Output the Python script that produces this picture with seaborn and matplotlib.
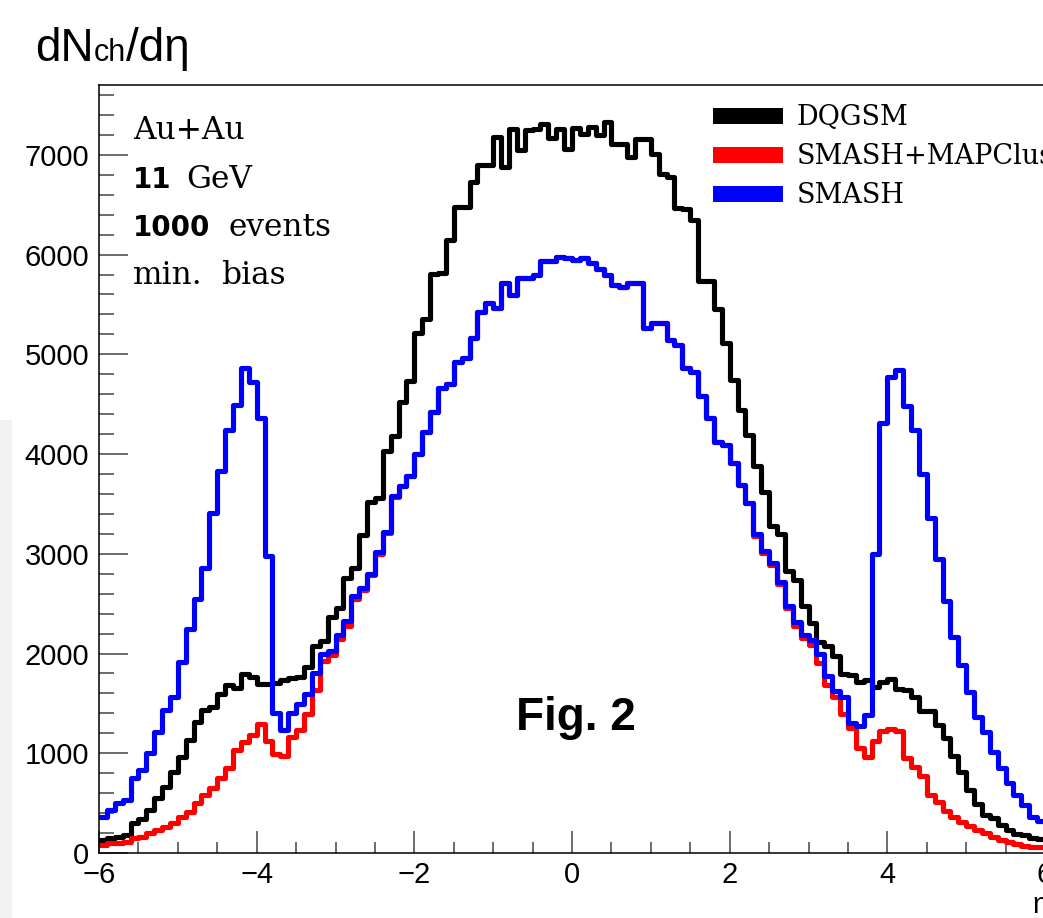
import matplotlib
matplotlib.use("Agg")
import numpy as np
import pandas as pd
import matplotlib.pyplot as plt
import seaborn as sns
from matplotlib.transforms import IdentityTransform
from matplotlib.lines import Line2D
from matplotlib.ticker import MultipleLocator
from matplotlib.patches import Rectangle

# ---------------- data ----------------
eta_edges = [round(-6.0 + 0.1 * i, 2) for i in range(121)]     # 120 bins of width 0.1
eta_centers = [round(-5.95 + 0.1 * i, 3) for i in range(120)]

dqgsm = [
    132, 149, 165, 182, 298, 338, 432, 548, 665, 815,
    958, 1131, 1314, 1431, 1464, 1597, 1680, 1654, 1797, 1764,
    1697, 1697, 1700, 1732, 1755, 1767, 1862, 2073, 2121, 2362,
    2454, 2755, 2861, 3190, 3515, 3555, 4027, 4178, 4518, 4729,
    5209, 5352, 5810, 5816, 6150, 6477, 6480, 6727, 6894, 6900,
    7177, 6880, 7260, 7044, 7244, 7260, 7310, 7170, 7260, 7055,
    7265, 7205, 7277, 7194, 7327, 7110, 7110, 6980, 7160, 7160,
    7005, 6810, 6777, 6465, 6460, 6344, 5730, 5730, 5455, 5118,
    4746, 4440, 4190, 3884, 3622, 3277, 3200, 2825, 2738, 2480,
    2305, 2120, 2072, 1971, 1797, 1785, 1710, 1735, 1668, 1718,
    1744, 1644, 1635, 1560, 1427, 1427, 1285, 1152, 977, 810,
    635, 494, 385, 352, 285, 227, 194, 185, 152, 137,
]

smash_mapclus = [
    82, 99, 105, 115, 149, 165, 205, 232, 265, 298,
    365, 415, 498, 581, 648, 748, 848, 1031, 1114, 1181,
    1297, 1120, 990, 970, 1164, 1232, 1397, 1636, 1920, 1990,
    2141, 2277, 2550, 2635, 2785, 3000, 3205, 3570, 3678, 3777,
    3999, 4218, 4420, 4660, 4700, 4927, 4960, 5160, 5427, 5510,
    5468, 5710, 5594, 5768, 5760, 5794, 5935, 5935, 5977, 5968,
    5944, 5968, 5918, 5860, 5794, 5694, 5677, 5710, 5710, 5260,
    5310, 5310, 5144, 5094, 4860, 4818, 4577, 4360, 4120, 4088,
    3912, 3690, 3507, 3180, 3010, 2890, 2695, 2460, 2280, 2160,
    2090, 1900, 1680, 1560, 1390, 1250, 1050, 960, 1127, 1220,
    1245, 1220, 955, 860, 777, 577, 510, 420, 360, 310,
    270, 227, 200, 160, 135, 110, 90, 75, 65, 60,
]

smash = [
    360, 430, 500, 530, 748, 831, 998, 1214, 1431, 1564,
    1914, 2246, 2546, 2862, 3412, 3828, 4238, 4494, 4867, 4727,
    4361, 2979, 1400, 1231, 1400, 1490, 1596, 1806, 2000, 2028,
    2183, 2322, 2573, 2654, 2802, 3015, 3218, 3583, 3678, 3777,
    3999, 4218, 4420, 4660, 4700, 4927, 4960, 5160, 5427, 5510,
    5468, 5710, 5594, 5768, 5760, 5794, 5935, 5935, 5977, 5968,
    5944, 5968, 5918, 5860, 5794, 5694, 5677, 5710, 5710, 5260,
    5310, 5310, 5144, 5094, 4860, 4818, 4577, 4360, 4120, 4088,
    3912, 3690, 3507, 3198, 3027, 2912, 2718, 2480, 2314, 2190,
    2131, 1994, 1777, 1627, 1563, 1300, 1275, 1385, 3000, 4310,
    4768, 4844, 4485, 4244, 3802, 3360, 2944, 2527, 2168, 1885,
    1610, 1368, 1210, 1010, 852, 702, 577, 477, 360, 320,
]

series_names = ["DQGSM", "SMASH+MAPClus", "SMASH"]
series_colors = ["#000000", "#ff0000", "#0000ff"]
series_values = [dqgsm, smash_mapclus, smash]

x_ticks = [-6, -4, -2, 0, 2, 4, 6]
y_ticks = [0, 1000, 2000, 3000, 4000, 5000, 6000, 7000]

# ---------------- figure ----------------
W, H = 1043, 918
sns.set_style("white")
plt.rcParams["font.family"] = ["Liberation Sans", "DejaVu Sans"]
plt.rcParams["text.color"] = "black"

fig = plt.figure(figsize=(W / 100, H / 100), dpi=100)
fig.patches.append(Rectangle((0, 0), 12, H - 420, transform=IdentityTransform(),
                             facecolor="#f2f2f2", edgecolor="none", zorder=0))
ax = fig.add_axes([99 / W, 65 / H, 946 / W, 768 / H])
ax.set_facecolor("white")

for name, vals, col in zip(series_names, series_values, series_colors):
    df = pd.DataFrame({"eta": eta_centers, "n": vals})
    sns.histplot(data=df, x="eta", weights="n", bins=eta_edges, element="step",
                 fill=False, color=col, linewidth=3.7, ax=ax)

ax.set_xlim(-6, 6)
ax.set_ylim(0, 7700)
ax.set_xticks(x_ticks)
ax.set_yticks(y_ticks)
ax.xaxis.set_minor_locator(MultipleLocator(0.5))
ax.yaxis.set_minor_locator(MultipleLocator(200))
ax.set_xlabel("")
ax.set_ylabel("")

ax.tick_params(which="both", direction="in", color="#444444", labelcolor="black",
               labelsize=21, width=1.1, bottom=True, left=True, top=False, right=False)
ax.tick_params(axis="y", which="major", length=21, pad=7)
ax.tick_params(axis="y", which="minor", length=11)
ax.tick_params(axis="x", which="major", length=16, pad=6)
ax.tick_params(axis="x", which="minor", length=8)
for s in ["left", "top", "bottom"]:
    ax.spines[s].set_color("black")
    ax.spines[s].set_linewidth(1.1)
ax.spines["right"].set_visible(False)

# legend
handles = [Line2D([0], [0], color=c, lw=11.5, solid_capstyle="butt") for c in series_colors]
leg = ax.legend(handles, series_names, loc="upper left",
                bbox_to_anchor=(713 / W, 1 - 104 / H), bbox_transform=fig.transFigure,
                frameon=False, borderpad=0, borderaxespad=0,
                handlelength=2.6, handletextpad=0.5, labelspacing=0.45,
                prop={"family": "DejaVu Serif", "size": 19.5})
for t in leg.get_texts():
    t.set_color("black")

# ---------------- texts ----------------
renderer = fig.canvas.get_renderer()


def chain(parts, x, y_img):
    for s, kw, gap in parts:
        t = fig.text(x, H - y_img, s, transform=IdentityTransform(),
                     ha="left", va="baseline", color="black", **kw)
        x += t.get_window_extent(renderer).width + gap


serif = {"family": "DejaVu Serif", "size": 22.5}
boldsans = {"family": "DejaVu Sans", "size": 20, "weight": "bold"}

chain([("Au+Au", serif, 0)], 133, 139)
chain([("11", boldsans, 15), ("GeV", serif, 0)], 133, 188)
chain([("1000", boldsans, 18), ("events", serif, 0)], 133, 236)
chain([("min.", serif, 18), ("bias", serif, 0)], 133, 284)

sans_big = {"family": "Liberation Sans", "size": 33}
sans_small = {"family": "Liberation Sans", "size": 22}
chain([("dN", sans_big, 0), ("ch", sans_small, 0), ("/dη", sans_big, 0)], 35, 61)

fig.text(576, H - 718, "Fig. 2", transform=IdentityTransform(), ha="center", va="center",
         family="Liberation Sans", weight="bold", size=33, color="black")

fig.text(1033, H - 905, "η", transform=IdentityTransform(), ha="left", va="center",
         family="Liberation Sans", size=21, color="black")

fig.savefig("out.png", dpi=100)
